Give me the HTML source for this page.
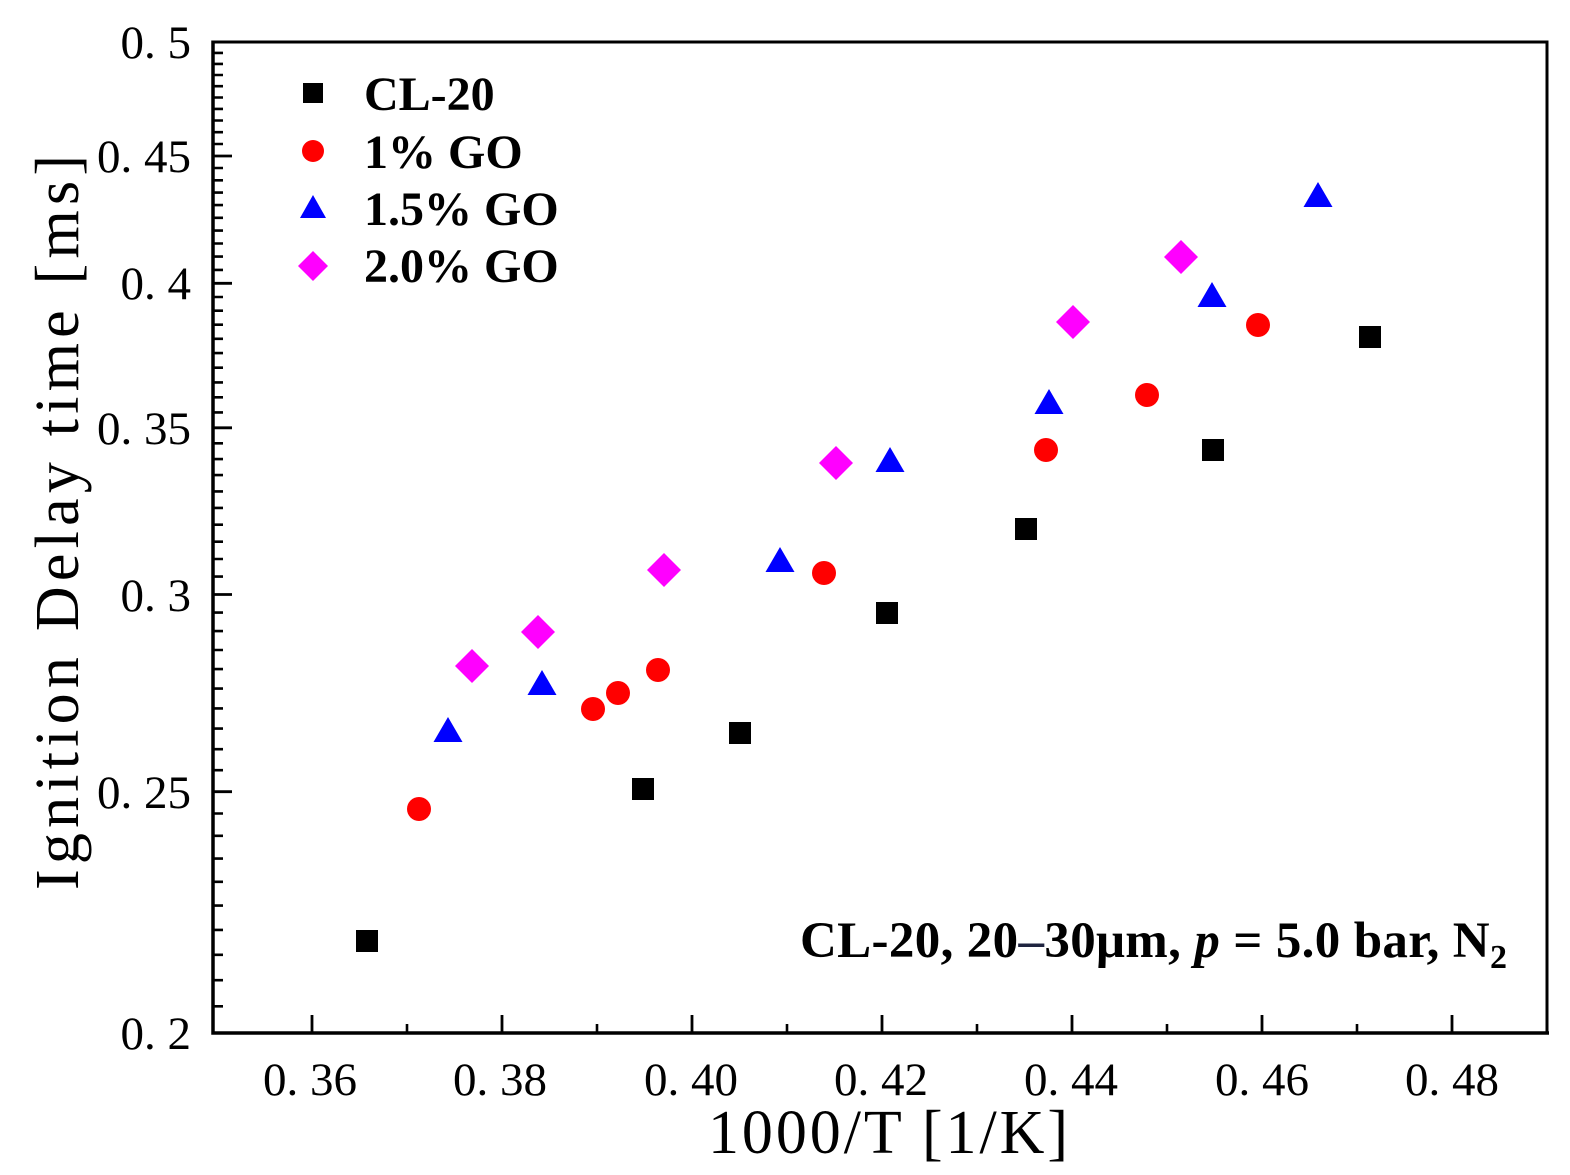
<!DOCTYPE html>
<html><head><meta charset="utf-8"><style>
html,body{margin:0;padding:0;background:#fff;}
svg{display:block;}
</style></head><body>
<svg width="1570" height="1175" viewBox="0 0 1570 1175" xmlns="http://www.w3.org/2000/svg">
<defs>
<rect id="sq" x="-11" y="-11" width="22" height="22" fill="#000"/>
<circle id="ci" cx="0" cy="0" r="12" fill="#ff0000"/>
<path id="tr" d="M0,-13 L14.5,12 L-14.5,12 Z" fill="#0000ff"/>
<path id="di" d="M0,-17 L17,0 L0,17 L-17,0 Z" fill="#ff00ff"/>
</defs>
<rect width="1570" height="1175" fill="#fff"/>
<!-- frame -->
<path d="M213,42 H1547 V1033" fill="none" stroke="#000" stroke-width="3"/>
<path d="M213,40.5 V1033 H1549" fill="none" stroke="#000" stroke-width="3.5"/>
<!-- y major ticks -->
<path d="M213,791.7 h19 M213,594.5 h19 M213,427.8 h19 M213,283.3 h19 M213,156 h19" stroke="#000" stroke-width="2.8"/>
<!-- y minor ticks -->
<path stroke="#000" stroke-width="2.6" d="M213,1006.3h10M213,980.2h10M213,954.8h10M213,929.9h10M213,905.6h10M213,881.8h10M213,858.6h10M213,835.8h10M213,813.5h10
M213,770.2h10M213,749.2h10M213,728.6h10M213,708.4h10M213,688.6h10M213,669.1h10M213,650h10M213,631.1h10M213,612.6h10
M213,576.6h10M213,559h10M213,541.7h10M213,524.7h10M213,507.9h10M213,491.4h10M213,475.1h10M213,459.1h10M213,443.3h10
M213,412.4h10M213,397.3h10M213,382.4h10M213,367.7h10M213,353.1h10M213,338.8h10M213,324.7h10M213,310.7h10M213,297h10
M213,269.9h10M213,256.6h10M213,243.5h10M213,230.6h10M213,217.8h10M213,205.1h10M213,192.6h10M213,180.3h10M213,168h10
M213,144h10M213,132.2h10M213,120.5h10M213,108.9h10M213,97.5h10M213,86.2h10M213,75h10M213,63.9h10M213,52.9h10"/>
<!-- x ticks -->
<path stroke="#000" stroke-width="2.8" d="M312,1033v-18M502,1033v-18M692,1033v-18M882,1033v-18M1072,1033v-18M1262,1033v-18M1452,1033v-18"/>
<path stroke="#000" stroke-width="2.6" d="M407,1033v-9M597,1033v-9M787,1033v-9M977,1033v-9M1167,1033v-9M1357,1033v-9"/>
<!-- tick labels -->
<g font-family="Liberation Serif, serif" font-size="47" fill="#000">
<g text-anchor="middle">
<text x="310" y="1095">0. 36</text>
<text x="500" y="1095">0. 38</text>
<text x="691" y="1095">0. 40</text>
<text x="881" y="1095">0. 42</text>
<text x="1071" y="1095">0. 44</text>
<text x="1262" y="1095">0. 46</text>
<text x="1452" y="1095">0. 48</text>
</g>
<g text-anchor="end">
<text x="191" y="1049">0. 2</text>
<text x="191" y="808">0. 25</text>
<text x="191" y="611">0. 3</text>
<text x="191" y="444">0. 35</text>
<text x="191" y="299">0. 4</text>
<text x="191" y="172">0. 45</text>
<text x="191" y="58">0. 5</text>
</g>
</g>
<!-- axis titles -->
<text x="708" y="1153" font-family="Liberation Serif, serif" font-size="62" textLength="360" lengthAdjust="spacing" fill="#000">1000/T [1/K]</text>
<text transform="translate(78,890) rotate(-90)" x="0" y="0" font-family="Liberation Serif, serif" font-size="62" textLength="735" lengthAdjust="spacing" fill="#000">Ignition Delay time [ms]</text>
<!-- legend -->
<rect x="303" y="83" width="20" height="20" fill="#000"/>
<circle cx="313" cy="151" r="11" fill="#ff0000"/>
<path d="M313,195 L326,218 L300,218 Z" fill="#0000ff"/>
<path d="M313,251 L328,266 L313,281 L298,266 Z" fill="#ff00ff"/>
<g font-family="Liberation Serif, serif" font-weight="bold" font-size="48" fill="#000">
<text x="364" y="110">CL-20</text>
<text x="364" y="168">1% GO</text>
<text x="364" y="225">1.5% GO</text>
<text x="364" y="282">2.0% GO</text>
</g>
<!-- annotation -->
<text x="800" y="957" font-family="Liberation Serif, serif" font-weight="bold" font-size="51" letter-spacing="0.35" fill="#000">CL-20, 20<tspan fill="#1f2440">–</tspan>30μm, <tspan font-style="italic">p</tspan> = 5.0 bar, N<tspan font-size="34" dy="11">2</tspan></text>
<!-- CL-20 squares -->
<use href="#sq" x="367" y="941"/>
<use href="#sq" x="643" y="789"/>
<use href="#sq" x="740" y="733"/>
<use href="#sq" x="887" y="613"/>
<use href="#sq" x="1026" y="529"/>
<use href="#sq" x="1213" y="450"/>
<use href="#sq" x="1370" y="337"/>
<!-- 1% GO circles -->
<use href="#ci" x="419" y="809"/>
<use href="#ci" x="593" y="709"/>
<use href="#ci" x="618" y="693"/>
<use href="#ci" x="658" y="670"/>
<use href="#ci" x="824" y="573"/>
<use href="#ci" x="1046" y="450"/>
<use href="#ci" x="1147" y="395"/>
<use href="#ci" x="1258" y="325"/>
<!-- 1.5% GO triangles -->
<use href="#tr" x="448" y="730"/>
<use href="#tr" x="542" y="683"/>
<use href="#tr" x="780" y="560"/>
<use href="#tr" x="890" y="460"/>
<use href="#tr" x="1049" y="402"/>
<use href="#tr" x="1212" y="295"/>
<use href="#tr" x="1318" y="195"/>
<!-- 2.0% GO diamonds -->
<use href="#di" x="472" y="666"/>
<use href="#di" x="538" y="632"/>
<use href="#di" x="664" y="570"/>
<use href="#di" x="836" y="463"/>
<use href="#di" x="1073" y="322"/>
<use href="#di" x="1181" y="257"/>
</svg>
</body></html>
